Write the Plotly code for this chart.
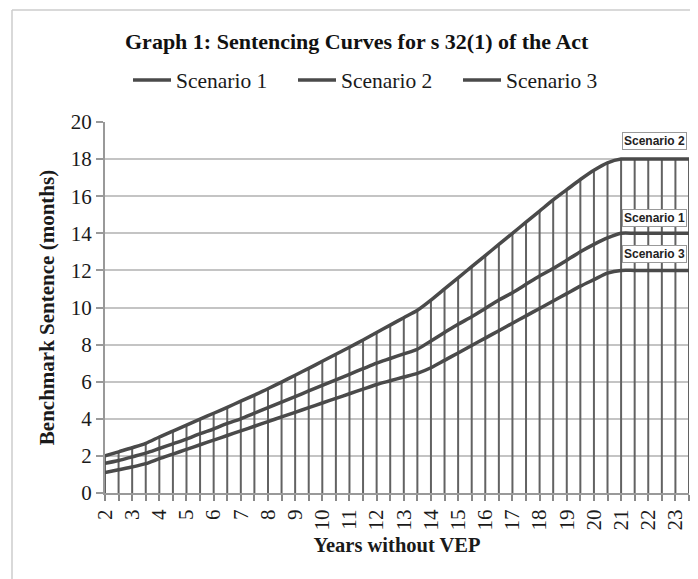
import plotly.graph_objects as go

years = [2, 2.5, 3, 3.5, 4, 4.5, 5, 5.5, 6, 6.5, 7, 7.5, 8, 8.5, 9, 9.5, 10, 10.5,
         11, 11.5, 12, 12.5, 13, 13.5, 14, 14.5, 15, 15.5, 16, 16.5, 17, 17.5, 18,
         18.5, 19, 19.5, 20, 20.5, 21, 21.5, 22, 22.5, 23, 23.5]

scenario_1 = [1.6, 1.75, 1.95, 2.15, 2.4, 2.65, 2.9, 3.2, 3.45, 3.75, 4.0, 4.3, 4.6,
              4.9, 5.2, 5.5, 5.8, 6.1, 6.4, 6.7, 7.0, 7.25, 7.5, 7.75, 8.2, 8.65, 9.1,
              9.5, 9.95, 10.4, 10.8, 11.25, 11.7, 12.1, 12.55, 13.0, 13.4, 13.75, 14,
              14, 14, 14, 14, 14]
scenario_2 = [2.0, 2.22, 2.44, 2.68, 3.02, 3.34, 3.66, 3.98, 4.3, 4.62, 4.95, 5.28,
              5.62, 5.98, 6.35, 6.72, 7.1, 7.48, 7.86, 8.25, 8.65, 9.05, 9.45, 9.85,
              10.4, 11.0, 11.6, 12.2, 12.8, 13.4, 14.0, 14.6, 15.2, 15.8, 16.35, 16.9,
              17.4, 17.8, 18, 18, 18, 18, 18, 18]
scenario_3 = [1.1, 1.25, 1.4, 1.58, 1.85, 2.1, 2.35, 2.6, 2.85, 3.1, 3.35, 3.6, 3.85,
              4.1, 4.35, 4.6, 4.85, 5.1, 5.35, 5.6, 5.85, 6.05, 6.25, 6.45, 6.75, 7.15,
              7.55, 7.95, 8.35, 8.75, 9.15, 9.55, 9.95, 10.35, 10.75, 11.15, 11.5,
              11.85, 12, 12, 12, 12, 12, 12]

series_names = ["Scenario 1", "Scenario 2", "Scenario 3"]
tick_labels = [str(v) for v in range(2, 24)]
end_labels = ["Scenario 2", "Scenario 1", "Scenario 3"]

serif = "Liberation Serif, Times New Roman, serif"
line_col = "#4a4a4a"

# page body has an 8px default margin; figure is sized to fit the window
W, H = 690, 571
ML, MR, MT, MB = 97, 9, 114, 86
PW = W - ML - MR
PH = H - MT - MB

def px_x(p):  # window pixel -> paper x
    return (p - 8 - ML) / PW

def px_y(p):  # window pixel -> paper y
    return (H - MB - (p - 8)) / PH

fig = go.Figure()

# drop lines from highest series down to the axis
drop_x, drop_y = [], []
for i, x in enumerate(years):
    top = max(scenario_1[i], scenario_2[i], scenario_3[i])
    drop_x += [x, x, None]
    drop_y += [0, top, None]
fig.add_trace(go.Scatter(x=drop_x, y=drop_y, mode="lines", showlegend=False,
                         hoverinfo="skip",
                         line=dict(color="#626262", width=2)))

for name, vals in zip(series_names, [scenario_1, scenario_2, scenario_3]):
    fig.add_trace(go.Scatter(x=years, y=vals, mode="lines", name=name,
                             line=dict(color=line_col, width=3.5,
                                       shape="spline", smoothing=0.8)))

fig.update_layout(
    width=W, height=H,
    margin=dict(l=ML, r=MR, t=MT, b=MB, autoexpand=False),
    paper_bgcolor="white", plot_bgcolor="white",
    font=dict(family=serif, color="#1a1a1a", size=21),
    showlegend=True,
    legend=dict(orientation="h", x=px_x(128), xanchor="left", y=px_y(80),
                yanchor="middle", font=dict(size=21.5, family=serif),
                itemwidth=38, entrywidth=112, entrywidthmode="pixels",
                tracegroupgap=0, bgcolor="rgba(0,0,0,0)"),
    annotations=[
        dict(text="<b>Graph 1: Sentencing Curves for s 32(1) of the Act</b>",
             xref="paper", yref="paper", x=px_x(357), y=px_y(41), xanchor="center",
             yanchor="middle", showarrow=False,
             font=dict(size=22, family=serif, color="#111111")),
    ],
)

fig.update_xaxes(
    range=[2, 23.5], tickmode="array", tickvals=list(range(2, 24)),
    ticktext=tick_labels, tickangle=-90, ticks="outside", ticklen=6,
    tickcolor="#888888", tickwidth=1.5,
    minor=dict(dtick=0.5, tick0=2, ticks="outside", ticklen=6,
               tickcolor="#888888", tickwidth=1.5, showgrid=False),
    showgrid=False, showline=True, linecolor="#999999", linewidth=2,
    zeroline=False, tickfont=dict(size=21, family=serif),
    title=dict(text="<b>Years without VEP</b>", font=dict(size=20.5, family=serif),
               standoff=8),
)
fig.update_yaxes(
    range=[0, 20], tickvals=list(range(0, 21, 2)), ticks="outside", ticklen=7,
    tickcolor="#999999", tickwidth=1.5,
    showgrid=True, gridcolor="#c4c4c4", gridwidth=2,
    showline=True, linecolor="#999999", linewidth=2, zeroline=False,
    tickfont=dict(size=21, family=serif),
    title=dict(text="<b>Benchmark Sentence (months)</b>",
               font=dict(size=21, family=serif), standoff=10),
)

# scenario labels at right
label_y = [19.0, 14.82, 12.88]
for txt, yv in zip(end_labels, label_y):
    fig.add_annotation(text="<b>" + txt + "</b>", x=23.42, y=yv, xref="x", yref="y",
                       xanchor="right", yanchor="middle", showarrow=False,
                       font=dict(size=12, family="Liberation Sans, Arial", color="#222222"),
                       bgcolor="white", bordercolor="#999999", borderwidth=1,
                       borderpad=1)

# outer frame
fig.add_shape(type="line", xref="paper", yref="paper",
              x0=px_x(12), x1=px_x(12), y0=px_y(579), y1=px_y(10),
              line=dict(color="#cccccc", width=1.5))
fig.add_shape(type="line", xref="paper", yref="paper",
              x0=px_x(12), x1=px_x(698), y0=px_y(10), y1=px_y(10),
              line=dict(color="#cccccc", width=1.5))

fig.write_html("out.html")
